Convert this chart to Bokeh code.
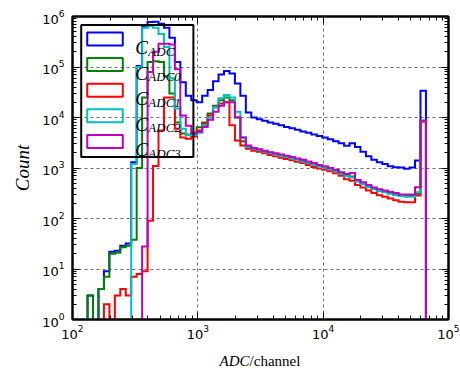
import numpy as np
from bokeh.plotting import figure
from bokeh.layouts import column
from bokeh.models import LogAxis, LogTicker, CustomJSTickFormatter, Div
from bokeh.core.properties import value
from bokeh.embed import file_html
from bokeh.resources import INLINE

# 65 logarithmic ADC bins reaching up to the 16-bit ceiling
bin_edges = np.logspace(1.9894, 4.82, 66)

counts_adc = [0, 0, 0, 3, 0, 4, 9, 22, 23, 29,
              32, 1300, 105000, 620000, 780000, 790000, 720000, 600000, 380000, 125000,
              50000, 27000, 22000, 20000, 27000, 35000, 52000, 71000, 83000, 74000,
              47000, 27000, 12500, 10000, 9200, 8600, 8000, 7500, 7000, 6500,
              6100, 5700, 5300, 5000, 4600, 4300, 4000, 3700, 3400, 3100,
              2750, 3100, 2600, 2100, 1700, 1450, 1300, 1200, 1080, 1040,
              1020, 970, 1020, 1400, 34000]

counts_adc0 = [0, 0, 0, 3, 0, 4, 7, 20, 21, 27,
               29, 38, 1000, 25000, 125000, 130000, 125000, 65000, 30000, 8000,
               4800, 4600, 5000, 6400, 8000, 12000, 17000, 22000, 25000, 22000,
               10000, 3400, 2600, 2400, 2300, 2150, 2000, 1900, 1800, 1700,
               1600, 1500, 1400, 1300, 1200, 1120, 1050, 980, 900, 800,
               720, 680, 560, 500, 440, 390, 360, 340, 320, 300,
               290, 280, 280, 310, 8500]

counts_adc1 = [0, 0, 0, 0, 0, 0, 2, 0, 3, 4,
               3, 7, 8, 9, 90, 1100, 5500, 25000, 25000, 6000,
               4000, 3800, 4200, 5500, 7500, 11000, 16000, 19000, 20000, 7000,
               3500, 2800, 2400, 2200, 2100, 1950, 1800, 1700, 1600, 1500,
               1420, 1330, 1250, 1150, 1050, 980, 920, 860, 790, 700,
               600, 560, 460, 410, 360, 320, 290, 270, 250, 230,
               215, 210, 210, 286, 8200]

counts_adc2 = [0, 0, 0, 0, 0, 0, 0, 0, 0, 0,
               0, 1200, 100000, 600000, 650000, 600000, 450000, 250000, 60000, 15000,
               6000, 4500, 4500, 5000, 7000, 10000, 16000, 24000, 28000, 25000,
               13000, 4000, 2600, 2400, 2250, 2100, 1950, 1850, 1750, 1650,
               1550, 1450, 1350, 1250, 1150, 1080, 1000, 940, 860, 760,
               690, 650, 540, 480, 420, 380, 350, 330, 310, 290,
               280, 270, 270, 330, 8500]

counts_adc3 = [0, 0, 0, 0, 0, 0, 0, 0, 0, 0,
               0, 0, 0, 28, 80000, 200000, 290000, 290000, 280000, 90000,
               11000, 6900, 4800, 5200, 6500, 9000, 13000, 17000, 20000, 20000,
               10000, 4000, 2800, 2500, 2350, 2200, 2050, 1950, 1850, 1750,
               1650, 1550, 1450, 1350, 1250, 1150, 1080, 1000, 920, 820,
               760, 800, 580, 520, 460, 410, 380, 360, 340, 320,
               300, 300, 300, 415, 8700]

series_labels = ["ADC", "ADC0", "ADC1", "ADC2", "ADC3"]
series_colors = ["#0000ff", "#008000", "#ff0000", "#00bfbf", "#bf00bf"]
series_counts = [counts_adc, counts_adc0, counts_adc1, counts_adc2, counts_adc3]

X_LO, X_HI = 1e2, 1e5
Y_LO, Y_HI = 1e0, 1e6

p = figure(width=460, height=345, x_axis_type="log", y_axis_type="log",
           x_range=(X_LO, X_HI), y_range=(Y_LO, Y_HI),
           output_backend="svg", toolbar_location=None,
           min_border_left=72, min_border_right=12,
           min_border_top=16, min_border_bottom=26)
p.margin = (0, 0, 0, 0)
p.background_fill_color = "white"
p.border_fill_color = "white"
p.outline_line_color = "black"
p.outline_line_width = 2

# extra axes carry the inward ticks on the top and right edges
blank = CustomJSTickFormatter(code="return ''")
p.add_layout(LogAxis(formatter=blank), "above")
p.add_layout(LogAxis(formatter=blank), "right")

for ax in p.axis:
    ax.ticker = LogTicker(num_minor_ticks=10)
    ax.major_tick_in = 7
    ax.major_tick_out = 0
    ax.minor_tick_in = 4
    ax.minor_tick_out = 0
    ax.major_tick_line_color = "black"
    ax.minor_tick_line_color = "black"
    ax.axis_line_color = "black"
    ax.axis_line_width = 2
    ax.major_label_text_font = "DejaVu Sans"
    ax.major_label_text_font_size = "13px"
    ax.major_label_text_color = "black"

for ax in p.above + p.right:
    ax.major_label_standoff = 0

p.xaxis[0].major_label_standoff = 6
p.yaxis[0].major_label_standoff = 8
p.yaxis[0].axis_label = "Count"
p.yaxis[0].axis_label_text_font = "Liberation Serif"
p.yaxis[0].axis_label_text_font_style = "italic"
p.yaxis[0].axis_label_text_font_size = "19px"
p.yaxis[0].axis_label_text_color = "black"
p.yaxis[0].axis_label_standoff = 6

p.grid.grid_line_color = "#707070"
p.grid.grid_line_dash = "3 3"
p.grid.grid_line_width = 1

FLOOR = 0.1  # empty bins drop below the visible range


def step_outline(counts):
    c = np.asarray(counts, dtype=float)
    c = np.where(c > 0, c, FLOOR)
    xs = np.repeat(bin_edges, 2)
    ys = np.concatenate([[FLOOR], np.repeat(c, 2), [FLOOR]])
    return xs, ys


for counts, color in zip(series_counts, series_colors):
    xs, ys = step_outline(counts)
    p.line(xs, ys, line_color=color, line_width=2, line_join="miter")

# pixel geometry of the plotting frame, used to place the legend block
FRAME_L, FRAME_R, FRAME_T, FRAME_B = 72.3, 447.7, 16.0, 319.0


def dx(px):
    return X_LO * (X_HI / X_LO) ** ((px - FRAME_L) / (FRAME_R - FRAME_L))


def dy(py):
    return Y_LO * (Y_HI / Y_LO) ** ((FRAME_B - py) / (FRAME_B - FRAME_T))


p.quad(left=[dx(81)], right=[dx(193)], top=[dy(24.5)], bottom=[dy(156.5)],
       fill_alpha=0, line_color="black", line_width=2)

for i, (lab, color) in enumerate(zip(series_labels, series_colors)):
    yc = 38.5 + 25.6 * i
    p.quad(left=[dx(87)], right=[dx(122.5)], top=[dy(yc - 6.5)], bottom=[dy(yc + 6.5)],
           fill_alpha=0, line_color=color, line_width=2)
    p.text(x=[dx(135)], y=[dy(yc + 8.5)], text=["C"],
           text_font=value("Liberation Serif"), text_font_style="italic",
           text_font_size="19px", text_baseline="alphabetic", text_color="black")
    p.text(x=[dx(148)], y=[dy(yc + 12)], text=[lab],
           text_font=value("Liberation Serif"), text_font_style="italic",
           text_font_size="13px", text_baseline="alphabetic", text_color="black")

# x-axis title: italic quantity followed by the upright unit, centred under the frame
x_title = Div(
    text=("<div style=\"width:376px;margin-left:72px;padding-top:8px;"
          "line-height:16px;text-align:center;font-family:'Liberation Serif';"
          "font-size:15px;color:black;\"><i>ADC</i>/channel</div>"),
    width=460, height=24, margin=(0, 0, 0, 0))

layout = column(p, x_title, spacing=0, margin=(0, 0, 0, 0))

open("out.html", "w").write(file_html(layout, INLINE))
